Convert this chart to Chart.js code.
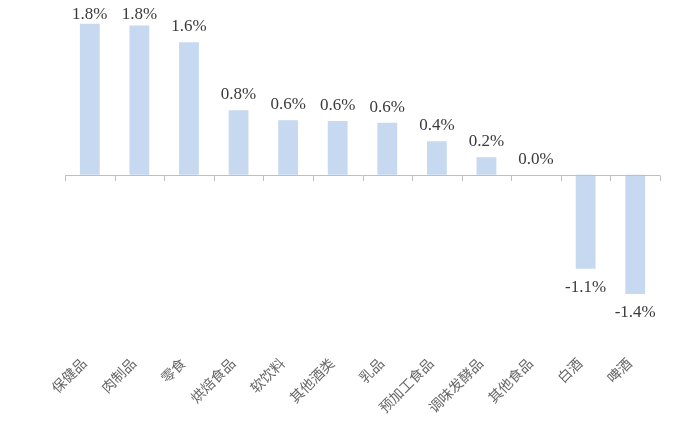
<!DOCTYPE html>
<html>
<head>
<meta charset="utf-8">
<script src="https://cdn.jsdelivr.net/npm/chart.js@4"></script>
<style>
    html, body { margin: 0; padding: 0; background: #ffffff; }
    #wrap { width: 700px; height: 440px; }
</style>
</head>
<body>
<div id="wrap"><canvas id="growthChart"></canvas></div>
<script>
// Categories and values (%)
const categories = ["保健品", "肉制品", "零食", "烘焙食品", "软饮料", "其他酒类", "乳品", "预加工食品", "调味发酵品", "其他食品", "白酒", "啤酒"];
const values = [1.80, 1.78, 1.58, 0.77, 0.65, 0.64, 0.62, 0.40, 0.21, 0.00, -1.12, -1.42];
const valueLabels = ["1.8%", "1.8%", "1.6%", "0.8%", "0.6%", "0.6%", "0.6%", "0.4%", "0.2%", "0.0%", "-1.1%", "-1.4%"];

// Zero line with tick marks between categories
const zeroAxis = {
    id: "zeroAxis",
    afterDatasetsDraw(chart) {
        const ctx = chart.ctx;
        const y0 = chart.scales.y.getPixelForValue(0);
        const area = chart.chartArea;
        ctx.save();
        ctx.strokeStyle = "#bfbfbf";
        ctx.lineWidth = 1;
        ctx.beginPath();
        ctx.moveTo(area.left, Math.round(y0) + 0.5);
        ctx.lineTo(area.right, Math.round(y0) + 0.5);
        const step = (area.right - area.left) / categories.length;
        for (let i = 0; i <= categories.length; i++) {
            const px = Math.round(area.left + i * step) + 0.5;
            ctx.moveTo(px, Math.round(y0) + 0.5);
            ctx.lineTo(px, Math.round(y0) + 6);
        }
        ctx.stroke();
        ctx.restore();
    }
};

// Value labels above / below bars
const barLabels = {
    id: "barLabels",
    afterDatasetsDraw(chart) {
        const ctx = chart.ctx;
        const meta = chart.getDatasetMeta(0);
        ctx.save();
        ctx.font = "17px 'Liberation Serif', 'Times New Roman', serif";
        ctx.fillStyle = "#3a3a3a";
        ctx.textAlign = "center";
        meta.data.forEach((bar, i) => {
            if (values[i] >= 0) {
                ctx.textBaseline = "bottom";
                ctx.fillText(valueLabels[i], bar.x, Math.max(bar.y - 7, 23));
            } else {
                ctx.textBaseline = "top";
                ctx.fillText(valueLabels[i], bar.x, bar.y + 10);
            }
        });
        ctx.restore();
    }
};

const ctx = document.getElementById("growthChart").getContext("2d");
const growthChart = new Chart(ctx, {
    type: "bar",
    data: {
        labels: categories,
        datasets: [{
            data: values,
            backgroundColor: "#c6d9f0",
            borderWidth: 0,
            categoryPercentage: 1.0,
            barPercentage: 0.4
        }]
    },
    options: {
        responsive: true,
        maintainAspectRatio: false,
        animation: false,
        layout: { padding: { left: 65, right: 40, top: 7, bottom: 12 } },
        plugins: {
            legend: { display: false },
            tooltip: { enabled: false }
        },
        scales: {
            x: {
                grid: { display: false, drawTicks: false },
                border: { display: false },
                ticks: {
                    minRotation: 45,
                    maxRotation: 45,
                    padding: 12,
                    labelOffset: -6,
                    color: "#666666",
                    font: { family: "'Noto Sans CJK SC'", size: 14 }
                }
            },
            y: {
                display: false,
                min: -2.0,
                max: 2.0
            }
        }
    },
    plugins: [zeroAxis, barLabels]
});
</script>
</body>
</html>
